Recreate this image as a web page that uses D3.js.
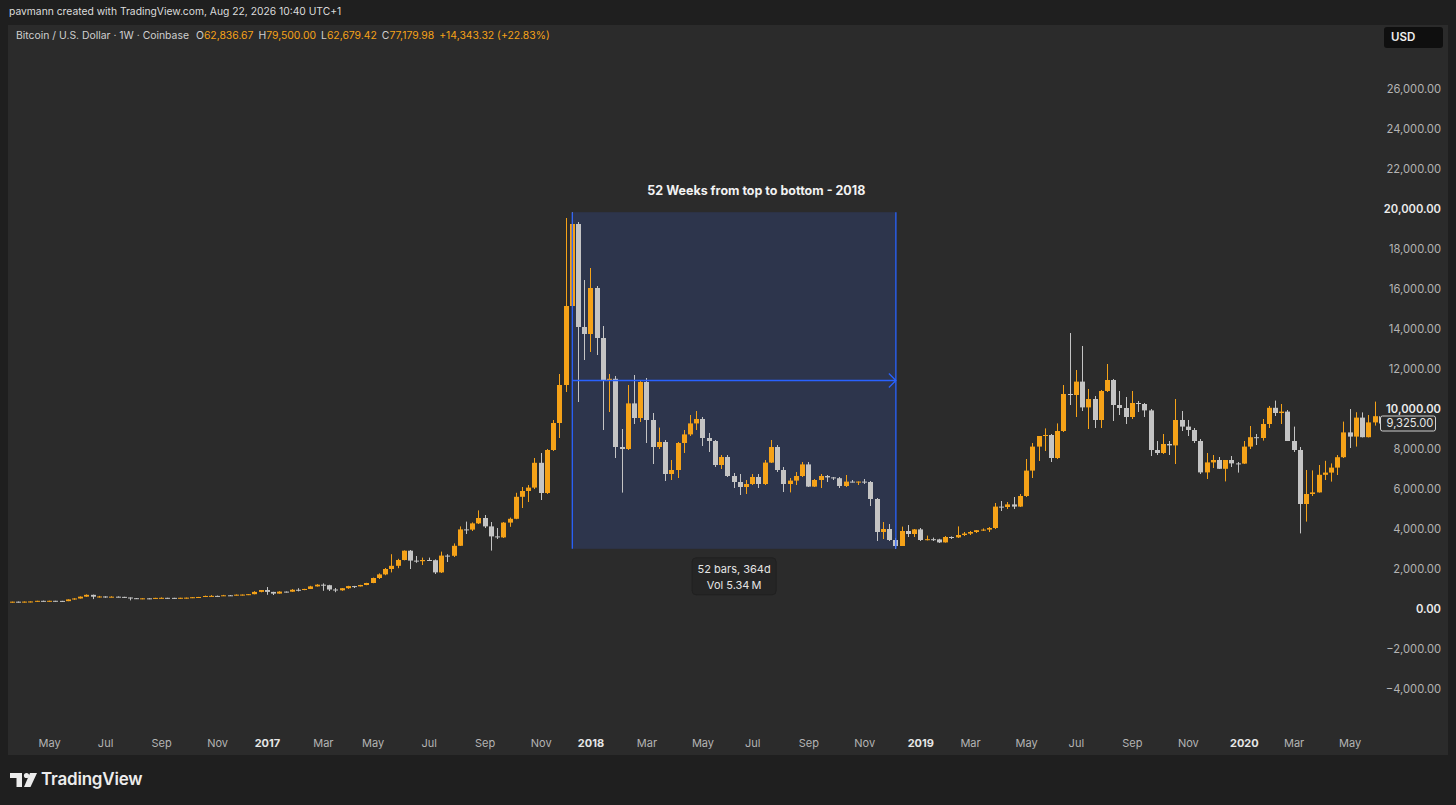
<!DOCTYPE html>
<html>
<head>
<meta charset="utf-8">
<script src="https://cdn.jsdelivr.net/npm/d3@7"></script>
<style>
  html, body { margin: 0; padding: 0; background: #1f1f1f; }
  svg { display: block; font-family: Inter, "Noto Sans", sans-serif; }
</style>
</head>
<body>
<svg id="chart" width="1456" height="805"></svg>
<script>
// weekly candles, Coinbase BTC/USD, [open, high, low, close]
const firstWeek = '2016-03-21'

const ohlc2016 = [
  [413, 418, 408, 416], [416, 424, 410, 415], [415, 424, 414, 420], [420, 430, 418, 428],
  [428, 462, 426, 459], [459, 469, 445, 452], [452, 465, 443, 461], [461, 462, 447, 456],
  [456, 458, 436, 443], [443, 535, 441, 529], [529, 590, 512, 576], [576, 680, 572, 667],
  [667, 780, 660, 758], [758, 770, 545, 665], [665, 705, 620, 676], [676, 685, 611, 652],
  [652, 685, 640, 666], [666, 680, 650, 657], [657, 660, 600, 625], [625, 630, 480, 590],
  [590, 600, 568, 570], [570, 590, 565, 583], [583, 590, 565, 572], [572, 610, 568, 605],
  [605, 630, 600, 609], [609, 612, 600, 607], [607, 610, 590, 602], [602, 612, 598, 611],
  [611, 620, 605, 617], [617, 645, 612, 638], [638, 655, 625, 651], [651, 720, 648, 701],
  [701, 745, 680, 706], [706, 720, 695, 703], [703, 755, 700, 735], [735, 750, 725, 731],
  [731, 775, 730, 766], [766, 775, 750, 771], [771, 795, 760, 791], [791, 940, 785, 905],
  [905, 1000, 885, 998]
]

const ohlc2017 = [
  [998, 1150, 760, 905], [905, 910, 750, 820], [820, 940, 815, 920], [920, 925, 880, 915],
  [915, 1045, 910, 1012], [1012, 1090, 930, 1000], [1000, 1060, 990, 1052], [1052, 1210, 1050, 1180],
  [1180, 1290, 1170, 1265], [1265, 1330, 960, 1240], [1240, 1260, 950, 1025], [1025, 1100, 890, 985],
  [985, 1100, 960, 1090], [1090, 1210, 1060, 1195], [1195, 1205, 1100, 1180], [1180, 1260, 1175, 1250],
  [1250, 1360, 1240, 1350], [1350, 1620, 1340, 1600], [1600, 1830, 1550, 1780], [1780, 2100, 1740, 2050],
  [2050, 2790, 1880, 2210], [2210, 2560, 2090, 2500], [2500, 2980, 2480, 2965], [2965, 3000, 2050, 2470],
  [2470, 2700, 2360, 2440], [2440, 2620, 2250, 2500], [2500, 2620, 2480, 2490], [2490, 2530, 1800, 1880],
  [1880, 2920, 1850, 2720], [2720, 2790, 2400, 2710], [2710, 3330, 2650, 3210], [3210, 4180, 3200, 4030],
  [4030, 4420, 3800, 4020], [4020, 4380, 3950, 4330], [4330, 4980, 4300, 4600], [4600, 4750, 4100, 4180],
  [4180, 4400, 2970, 3680], [3680, 4100, 3550, 3630], [3630, 4400, 3600, 4370], [4370, 4620, 4160, 4560],
  [4560, 5860, 4540, 5660], [5660, 6150, 5100, 5950], [5950, 6250, 5400, 6120], [6120, 7600, 6050, 7360],
  [7360, 7850, 5500, 5850], [5850, 8050, 5800, 8000], [8000, 9500, 7950, 9350], [9350, 11800, 8600, 11250],
  [11250, 19600, 10900, 15200], [15200, 19891, 15100, 19300], [19300, 19400, 10400, 14150], [14150, 16500, 12500, 13800]
]

const ohlc2018 = [
  [13800, 17100, 12900, 16100], [16100, 16200, 12750, 13600], [13600, 14200, 9000, 11500], [11500, 11800, 9900, 11560],
  [11560, 11700, 7600, 8150], [8150, 9050, 5870, 8050], [8050, 11250, 8000, 10330], [10330, 11750, 9300, 9600],
  [9600, 11500, 9400, 11400], [11400, 11600, 8350, 9500], [9500, 9850, 7300, 8150], [8150, 9120, 8050, 8400],
  [8400, 8500, 6450, 6800], [6800, 7500, 6500, 7000], [7000, 8400, 6600, 8350], [8350, 9000, 7850, 8780],
  [8780, 9750, 8700, 9330], [9330, 9950, 9000, 9550], [9550, 9650, 8200, 8600], [8600, 8850, 7900, 8450],
  [8450, 8500, 7150, 7250], [7250, 7750, 7050, 7650], [7650, 7750, 6650, 6700], [6700, 6850, 6100, 6400],
  [6400, 6800, 5750, 6150], [6150, 6500, 5800, 6300], [6300, 6800, 6250, 6650], [6650, 6800, 6100, 6300],
  [6300, 7500, 6250, 7370], [7370, 8500, 7350, 8150], [8150, 8250, 6900, 7000], [7000, 7150, 5900, 6300],
  [6300, 6600, 5880, 6470], [6470, 6900, 6250, 6700], [6700, 7400, 6650, 7280], [7280, 7400, 6150, 6170],
  [6170, 6550, 6150, 6500], [6500, 6800, 6100, 6700], [6700, 6750, 6400, 6630], [6630, 6650, 6500, 6590],
  [6590, 6650, 6100, 6200], [6200, 6750, 6150, 6420], [6420, 6500, 6380, 6410], [6405, 6430, 6250, 6420],
  [6420, 6550, 6300, 6400], [6400, 6450, 5200, 5550], [5550, 5600, 3450, 3900], [3900, 4400, 3550, 4050],
  [4050, 4300, 3450, 3500], [3500, 3600, 3060, 3200], [3200, 4170, 3200, 3950], [3950, 4250, 3650, 3800],
  [3800, 4050, 3650, 4030]
]

const ohlc2019 = [
  [4030, 4100, 3450, 3500], [3500, 3720, 3480, 3540], [3540, 3620, 3450, 3530], [3530, 3560, 3350, 3380],
  [3380, 3700, 3370, 3650], [3650, 3680, 3550, 3630], [3630, 4180, 3600, 3750], [3750, 3900, 3700, 3820],
  [3820, 3950, 3750, 3900], [3900, 4000, 3850, 3990], [3990, 4080, 3950, 4020], [4020, 4150, 3900, 4100],
  [4100, 5350, 4050, 5170], [5170, 5450, 4950, 5150], [5150, 5400, 5050, 5280], [5280, 5650, 5050, 5170],
  [5170, 5800, 5150, 5700], [5700, 7550, 5650, 6970], [6970, 8350, 6600, 8170], [8170, 8700, 7450, 8700],
  [8700, 9080, 7950, 8750], [8750, 8800, 7400, 7600], [7600, 9330, 7550, 8950], [8950, 11250, 8900, 10800],
  [10800, 13850, 10250, 10750], [10750, 12000, 9650, 11420], [11420, 13200, 9950, 10130], [10130, 11050, 9050, 10550],
  [10550, 10700, 9100, 9500], [9500, 11000, 9100, 10950], [10950, 12300, 10900, 11500], [11500, 11550, 9450, 10250],
  [10250, 10950, 9750, 10100], [10100, 10650, 9300, 9650], [9650, 10950, 9550, 10350], [10350, 10450, 9900, 10300],
  [10300, 10350, 9650, 9980], [9980, 10050, 7700, 8000], [8000, 8450, 7750, 7850], [7850, 8800, 7800, 8300],
  [8300, 8450, 7750, 8230], [8230, 10550, 7300, 9500], [9500, 9950, 8950, 9170], [9170, 9500, 8700, 9000],
  [9000, 9100, 8350, 8450], [8450, 8550, 6800, 6880], [6880, 7850, 6550, 7380], [7380, 7750, 7100, 7500],
  [7500, 7650, 7050, 7060], [7060, 7500, 6430, 7500], [7500, 7700, 7150, 7330], [7330, 7400, 6870, 7320]
]

const ohlc2020 = [
  [7320, 8450, 7300, 8170], [8170, 9200, 8050, 8640], [8640, 8800, 8250, 8600], [8600, 9550, 8470, 9300],
  [9300, 10200, 9100, 10110], [10110, 10470, 9700, 9850], [9850, 10300, 9300, 9920], [9920, 10000, 8450, 8450],
  [8450, 9170, 7900, 8000], [8000, 8150, 3830, 5300], [5300, 7000, 4420, 5800], [5800, 6980, 5700, 5880],
  [5880, 7250, 5870, 6760], [6760, 7460, 6500, 6870], [6870, 7330, 6420, 7120], [7120, 7750, 6750, 7640],
  [7640, 9420, 7600, 8880], [8880, 10050, 8100, 8670], [8670, 9890, 8170, 9620], [9620, 9880, 8630, 8640],
  [8640, 9750, 8630, 9380], [9380, 10420, 9220, 9690], [9690, 9990, 9300, 9325]
]

const priceTicks = [-4000, -2000, 0, 2000, 4000, 6000, 8000, 10000, 12000, 14000,
  16000, 18000, 20000, 22000, 24000, 26000]
const brightTicks = [0, 10000, 20000]
const monthTicks = ['2016-05', '2016-07', '2016-09', '2016-11', '2017-01', '2017-03', '2017-05',
  '2017-07', '2017-09', '2017-11', '2018-01', '2018-03', '2018-05', '2018-07', '2018-09', '2018-11',
  '2019-01', '2019-03', '2019-05', '2019-07', '2019-09', '2019-11', '2020-01', '2020-03', '2020-05']

const headerText = 'pavmann created with TradingView.com, Aug 22, 2026 10:40 UTC+1'
const symbolText = 'Bitcoin / U.S. Dollar · 1W · Coinbase'
const quoteLabels = ['O', 'H', 'L', 'C']
const quoteValues = ['62,836.67', '79,500.00', '62,679.42', '77,179.98']
const quoteChange = '+14,343.32 (+22.83%)'
const rangeTitle = '52 Weeks from top to bottom - 2018'
const rangeTitleAt = ['2018-07-06', 20900]
const rangeVolume = 'Vol 5.34\u2009M'

// build the bars
const raw = [...ohlc2016, ...ohlc2017, ...ohlc2018, ...ohlc2019, ...ohlc2020]
const parse = d3.timeParse('%Y-%m-%d')
const start = parse(firstWeek)
const bars = raw.map((d, i) => ({
  date: d3.timeMonday.offset(start, i),
  open: d[0], high: d[1], low: d[2], close: d[3]
}))

const W = 1456, H = 805
const panel = { left: 8, top: 25, right: 1448, bottom: 755 }
const plot = { left: 8, right: 1380, top: 25, bottom: 728 }

const upColor = '#f5a218'
const downColor = '#c4c4c4'

const svg = d3.select('#chart')

svg.append('rect').attr('width', W).attr('height', H).attr('fill', '#1f1f1f')
svg.append('rect')
  .attr('x', panel.left).attr('y', panel.top)
  .attr('width', panel.right - panel.left).attr('height', panel.bottom - panel.top)
  .attr('fill', '#2b2b2b')

// scales
const last = bars[bars.length - 1].date
const x = d3.scaleTime()
  .domain([d3.timeHour.offset(start, -115), d3.timeHour.offset(last, -34)])
  .range([plot.left, plot.right])
const y = d3.scaleLinear().domain([-4000, 26000]).range([690, 90])

svg.append('clipPath').attr('id', 'plotClip')
  .append('rect')
  .attr('x', plot.left).attr('y', plot.top)
  .attr('width', plot.right - plot.left).attr('height', plot.bottom - plot.top)

const plotG = svg.append('g').attr('clip-path', 'url(#plotClip)')

// date range tool (top -> bottom)
const topBar = bars.reduce((a, b) => (b.high > a.high ? b : a))
const afterTop = bars.filter(d => d.date > topBar.date)
const botBar = afterTop.reduce((a, b) => (b.low < a.low ? b : a))
const x0 = x(topBar.date), x1 = x(botBar.date)
const yTop = y(topBar.high), yBot = y(botBar.low)
const yMid = (yTop + yBot) / 2

plotG.append('rect')
  .attr('x', x0).attr('y', yTop)
  .attr('width', x1 - x0).attr('height', yBot - yTop)
  .attr('fill', '#2d354c')

// candles
const candles = plotG.append('g').selectAll('g')
  .data(bars)
  .join('g')
  .attr('fill', d => (d.close >= d.open ? upColor : downColor))

candles.append('rect')
  .attr('x', d => Math.floor(x(d.date)))
  .attr('width', 1)
  .attr('y', d => y(d.high))
  .attr('height', d => Math.max(1, y(d.low) - y(d.high)))

candles.append('rect')
  .attr('x', d => Math.floor(x(d.date)) - 2)
  .attr('width', 5)
  .attr('y', d => y(Math.max(d.open, d.close)))
  .attr('height', d => Math.max(1, Math.abs(y(d.open) - y(d.close))))

// range lines + arrow
const rangeG = plotG.append('g').attr('stroke', '#2962ff').attr('stroke-width', 1.3).attr('fill', 'none')
rangeG.append('line').attr('x1', x0).attr('x2', x0).attr('y1', yTop).attr('y2', yBot)
rangeG.append('line').attr('x1', x1).attr('x2', x1).attr('y1', yTop).attr('y2', yBot)
rangeG.append('line').attr('x1', x0).attr('x2', x1).attr('y1', yMid).attr('y2', yMid)
rangeG.append('path')
  .attr('d', `M${x1 - 7},${yMid - 7}L${x1},${yMid}L${x1 - 7},${yMid + 7}`)

// info box under the range
const nBars = bars.indexOf(botBar) - bars.indexOf(topBar)
const nDays = d3.timeDay.count(topBar.date, botBar.date)
const infoG = svg.append('g').attr('transform', `translate(${(x0 + x1) / 2},${yBot + 9})`)
infoG.append('rect')
  .attr('x', -42).attr('y', 0).attr('width', 84).attr('height', 37).attr('rx', 4)
  .attr('fill', '#252525').attr('stroke', '#202020').attr('stroke-width', 1)
infoG.append('text')
  .attr('y', 12.5).attr('text-anchor', 'middle').attr('dominant-baseline', 'middle')
  .attr('fill', '#e4e4e4').attr('font-size', 11)
  .text(`${nBars} bars, ${nDays}d`)
infoG.append('text')
  .attr('y', 28).attr('text-anchor', 'middle').attr('dominant-baseline', 'middle')
  .attr('fill', '#e4e4e4').attr('font-size', 11)
  .text(rangeVolume)

// title of the range
svg.append('text')
  .attr('x', x(parse(rangeTitleAt[0]))).attr('y', y(rangeTitleAt[1]))
  .attr('text-anchor', 'middle').attr('dominant-baseline', 'middle')
  .attr('fill', '#f2f2f2').attr('font-size', 12.5).attr('font-weight', 700)
  .text(rangeTitle)

// price axis
const fmt = d3.format(',.2f')
svg.append('g').selectAll('text')
  .data(priceTicks)
  .join('text')
  .attr('x', 1441).attr('y', d => y(d))
  .attr('text-anchor', 'end').attr('dominant-baseline', 'middle')
  .attr('font-size', 11.2)
  .attr('font-weight', d => (brightTicks.includes(d) ? 600 : 400))
  .attr('fill', d => (brightTicks.includes(d) ? '#ececec' : '#b4b4b4'))
  .text(d => fmt(d).replace('-', '\u2212'))

// last price label
const lastBar = bars[bars.length - 1]
const plG = svg.append('g').attr('transform', `translate(${plot.right + 0.5},${y(lastBar.close)})`)
plG.append('rect')
  .attr('x', 0).attr('y', -7.5).attr('width', 55).attr('height', 15).attr('rx', 2)
  .attr('fill', '#2b2b2b').attr('stroke', '#cfcfcf').attr('stroke-width', 1)
plG.append('text')
  .attr('x', 6).attr('y', 0.5).attr('dominant-baseline', 'middle')
  .attr('font-size', 11.2).attr('fill', '#e6e6e6')
  .text(fmt(lastBar.close))

// time axis
const monthFmt = d3.timeFormat('%b')
const parseMonth = d3.timeParse('%Y-%m')
const timeTicks = monthTicks.map(m => {
  const d = parseMonth(m)
  const bar = bars.find(b => b.date >= d)
  return { bar, isYear: d.getMonth() === 0, label: d.getMonth() === 0 ? String(d.getFullYear()) : monthFmt(d) }
})
svg.append('g').selectAll('text')
  .data(timeTicks)
  .join('text')
  .attr('x', d => x(d.bar.date)).attr('y', 744)
  .attr('text-anchor', 'middle').attr('dominant-baseline', 'middle')
  .attr('font-size', 11)
  .attr('font-weight', d => (d.isYear ? 700 : 400))
  .attr('fill', d => (d.isYear ? '#e6e6e6' : '#b4b4b4'))
  .text(d => d.label)

// header
svg.append('text')
  .attr('x', 9).attr('y', 12).attr('dominant-baseline', 'middle')
  .attr('font-size', 10.3).attr('fill', '#dcdcdc')
  .text(headerText)

const legend = svg.append('text')
  .attr('x', 16).attr('y', 36).attr('dominant-baseline', 'middle')
  .attr('font-size', 10.4).attr('fill', '#cfcfcf')
legend.append('tspan').text(symbolText)
quoteLabels.forEach((l, i) => {
  legend.append('tspan').attr('dx', i === 0 ? 7 : 5).text(l)
  legend.append('tspan').attr('fill', upColor).text(quoteValues[i])
})
legend.append('tspan').attr('dx', 5).attr('fill', upColor).text(quoteChange)

// USD badge
svg.append('rect')
  .attr('x', 1384).attr('y', 27).attr('width', 59).attr('height', 21).attr('rx', 3)
  .attr('fill', '#0f0f0f')
svg.append('text')
  .attr('x', 1391).attr('y', 37.5).attr('dominant-baseline', 'middle')
  .attr('font-size', 11.5).attr('font-weight', 600).attr('fill', '#f0f0f0')
  .text('USD')

// TradingView logo
const logo = svg.append('g').attr('fill', '#ececec')
logo.append('path').attr('d', 'M10,773H22V787H16.5V778H10Z')
logo.append('circle').attr('cx', 26.5).attr('cy', 775.5).attr('r', 2.6)
logo.append('path').attr('d', 'M30,773H37L30.5,787H24Z')
svg.append('text')
  .attr('x', 41).attr('y', 780.5).attr('dominant-baseline', 'middle')
  .attr('font-size', 17).attr('font-weight', 600).attr('fill', '#ececec')
  .attr('letter-spacing', -0.2)
  .text('TradingView')
</script>
</body>
</html>
